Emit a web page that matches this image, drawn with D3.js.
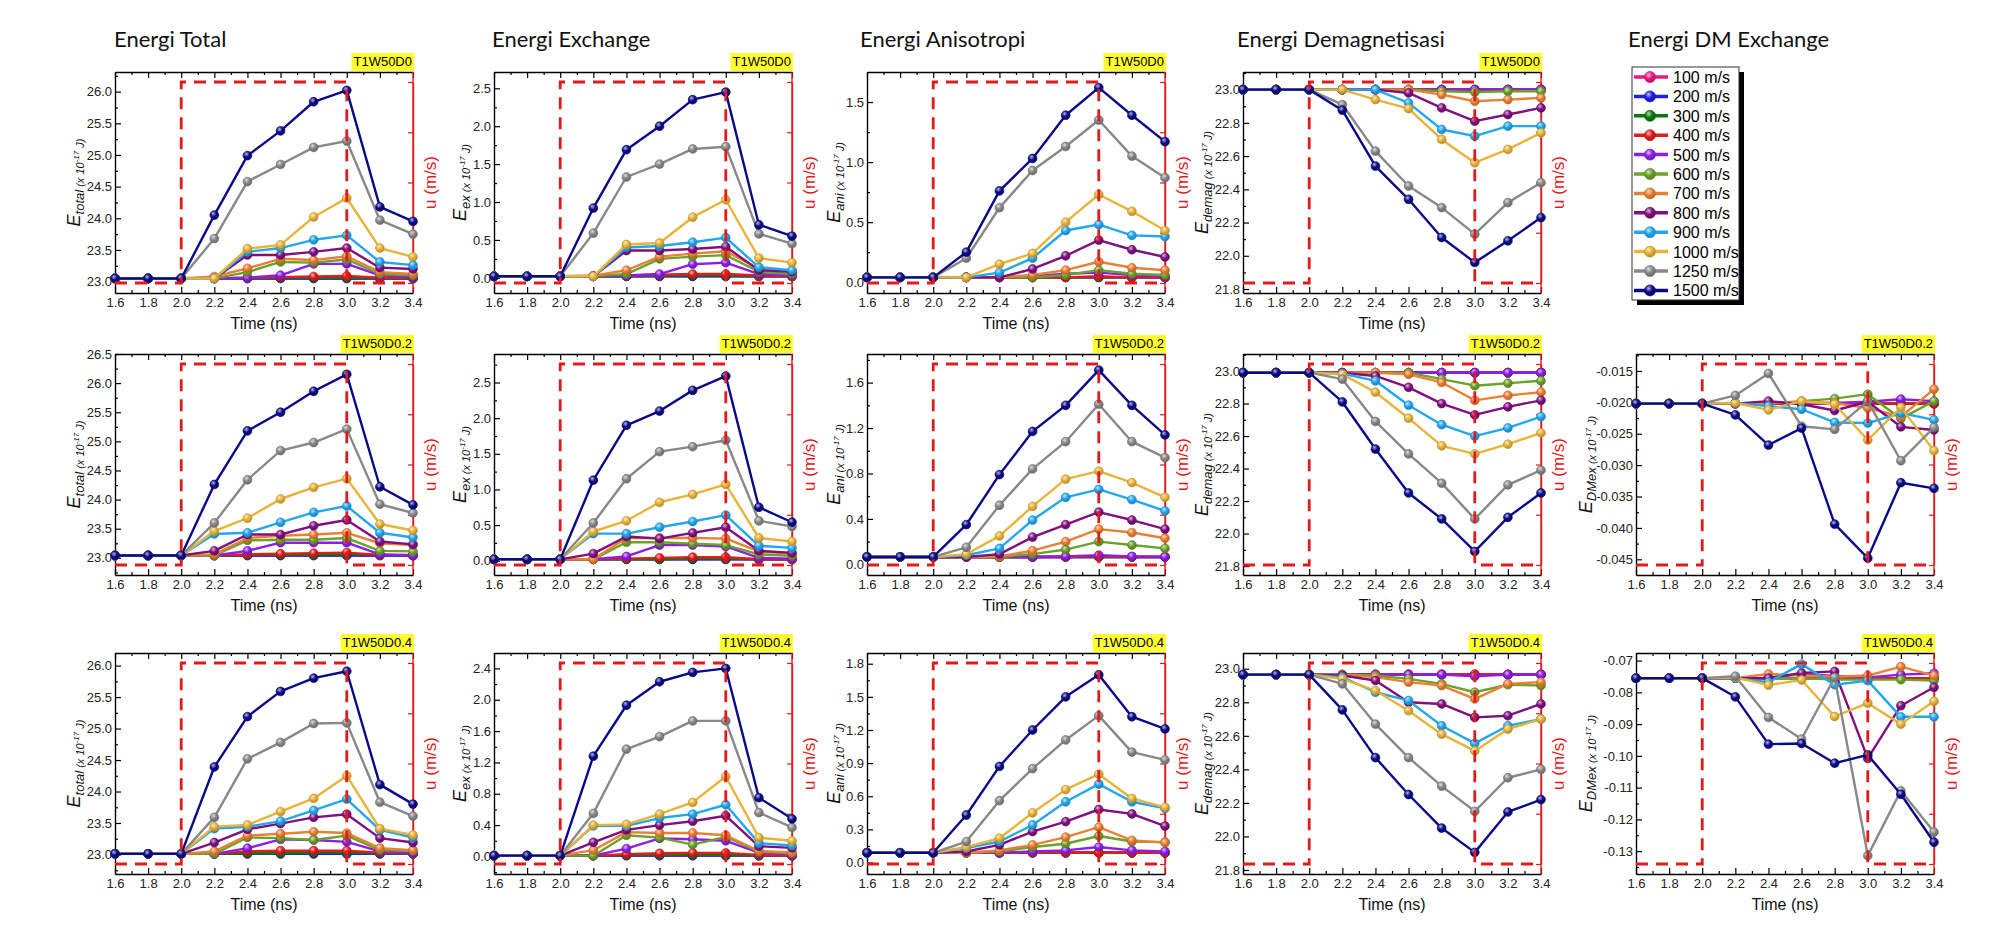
<!DOCTYPE html>
<html>
<head>
<meta charset="utf-8">
<script src="https://cdn.jsdelivr.net/npm/d3@7"></script>
<style>
  body { margin: 0; background: #fff; }
  text { font-family: "Liberation Sans", Arial, sans-serif; }
</style>
</head>
<body>
<svg id="chart" width="2000" height="937"></svg>
<script>
// waktu (ns) dan kecepatan
const times = [1.6, 1.8, 2.0, 2.2, 2.4, 2.6, 2.8, 3.0, 3.2, 3.4];
const speeds = ["100 m/s", "200 m/s", "300 m/s", "400 m/s", "500 m/s", "600 m/s",
  "700 m/s", "800 m/s", "900 m/s", "1000 m/s", "1250 m/s", "1500 m/s"];
const seriesColors = ["#e8197e", "#1f1fe0", "#0b7a0b", "#e41a1c", "#8c1ee6", "#6ba22a",
  "#ec7f33", "#800f80", "#22a7ee", "#e8b338", "#888888", "#0a0a88"];

// profil u(t) (dinormalisasi)
const uTimes = [1.6, 2.0, 2.0, 3.0, 3.0, 3.4];
const uLevels = [0, 0, 1, 1, 0, 0];
const uTicks = [0, 0.25, 0.5, 0.75, 1];

const xTicks = [1.6, 1.8, 2.0, 2.2, 2.4, 2.6, 2.8, 3.0, 3.2, 3.4];
const xMinorTicks = [1.7, 1.9, 2.1, 2.3, 2.5, 2.7, 2.9, 3.1, 3.3];

// ---- T1W50D0 ----
const totalD0 = [
  [23.05, 23.05, 23.05, 23.05, 23.05, 23.05, 23.05, 23.05, 23.05, 23.05],
  [23.05, 23.05, 23.05, 23.05, 23.05, 23.05, 23.05, 23.05, 23.05, 23.05],
  [23.05, 23.05, 23.05, 23.05, 23.05, 23.06, 23.06, 23.06, 23.05, 23.05],
  [23.05, 23.05, 23.05, 23.05, 23.06, 23.07, 23.08, 23.09, 23.06, 23.06],
  [23.05, 23.05, 23.05, 23.05, 23.06, 23.10, 23.28, 23.28, 23.10, 23.07],
  [23.05, 23.05, 23.05, 23.05, 23.15, 23.31, 23.30, 23.35, 23.12, 23.10],
  [23.05, 23.05, 23.05, 23.08, 23.21, 23.36, 23.34, 23.40, 23.15, 23.12],
  [23.05, 23.05, 23.05, 23.05, 23.42, 23.42, 23.47, 23.53, 23.22, 23.20],
  [23.05, 23.05, 23.05, 23.05, 23.47, 23.53, 23.66, 23.73, 23.31, 23.26],
  [23.05, 23.05, 23.05, 23.05, 23.52, 23.58, 24.02, 24.32, 23.53, 23.39],
  [23.05, 23.05, 23.05, 23.68, 24.58, 24.85, 25.12, 25.22, 23.97, 23.75],
  [23.05, 23.05, 23.05, 24.05, 24.99, 25.38, 25.84, 26.02, 24.18, 23.95]
];
const exchangeD0 = [
  [0.02, 0.02, 0.02, 0.02, 0.02, 0.02, 0.02, 0.02, 0.02, 0.02],
  [0.02, 0.02, 0.02, 0.02, 0.02, 0.02, 0.02, 0.02, 0.02, 0.02],
  [0.02, 0.02, 0.02, 0.02, 0.02, 0.03, 0.03, 0.03, 0.02, 0.02],
  [0.02, 0.02, 0.02, 0.02, 0.03, 0.04, 0.05, 0.05, 0.03, 0.02],
  [0.02, 0.02, 0.02, 0.02, 0.03, 0.05, 0.18, 0.20, 0.05, 0.03],
  [0.02, 0.02, 0.02, 0.02, 0.05, 0.25, 0.28, 0.30, 0.08, 0.05],
  [0.02, 0.02, 0.02, 0.03, 0.10, 0.28, 0.32, 0.35, 0.12, 0.08],
  [0.02, 0.02, 0.02, 0.02, 0.36, 0.36, 0.38, 0.41, 0.10, 0.08],
  [0.02, 0.02, 0.02, 0.02, 0.40, 0.42, 0.47, 0.53, 0.14, 0.10],
  [0.02, 0.02, 0.02, 0.02, 0.44, 0.46, 0.80, 1.03, 0.26, 0.20],
  [0.02, 0.02, 0.02, 0.59, 1.33, 1.50, 1.70, 1.73, 0.58, 0.45],
  [0.02, 0.02, 0.02, 0.92, 1.69, 2.00, 2.35, 2.45, 0.70, 0.55]
];
const anisoD0 = [
  [0.04, 0.04, 0.04, 0.04, 0.04, 0.04, 0.04, 0.04, 0.04, 0.04],
  [0.04, 0.04, 0.04, 0.04, 0.04, 0.04, 0.04, 0.04, 0.04, 0.04],
  [0.04, 0.04, 0.04, 0.04, 0.04, 0.04, 0.04, 0.04, 0.04, 0.04],
  [0.04, 0.04, 0.04, 0.04, 0.04, 0.04, 0.04, 0.05, 0.04, 0.04],
  [0.04, 0.04, 0.04, 0.04, 0.04, 0.05, 0.07, 0.08, 0.06, 0.05],
  [0.04, 0.04, 0.04, 0.04, 0.04, 0.04, 0.06, 0.10, 0.07, 0.06],
  [0.04, 0.04, 0.04, 0.04, 0.04, 0.06, 0.10, 0.17, 0.12, 0.10],
  [0.04, 0.04, 0.04, 0.04, 0.04, 0.11, 0.22, 0.35, 0.27, 0.21],
  [0.04, 0.04, 0.04, 0.04, 0.08, 0.20, 0.43, 0.48, 0.39, 0.38],
  [0.04, 0.04, 0.04, 0.04, 0.15, 0.24, 0.50, 0.73, 0.59, 0.43],
  [0.04, 0.04, 0.04, 0.20, 0.62, 0.93, 1.13, 1.35, 1.05, 0.87],
  [0.04, 0.04, 0.04, 0.25, 0.76, 1.03, 1.39, 1.62, 1.39, 1.17]
];
const demagD0 = [
  [23.0, 23.0, 23.0, 23.0, 23.0, 23.0, 23.0, 23.0, 23.0, 23.0],
  [23.0, 23.0, 23.0, 23.0, 23.0, 23.0, 23.0, 23.0, 23.0, 23.0],
  [23.0, 23.0, 23.0, 23.0, 23.0, 23.0, 23.0, 23.0, 23.0, 23.0],
  [23.0, 23.0, 23.0, 23.0, 23.0, 23.0, 23.0, 23.0, 23.0, 23.0],
  [23.0, 23.0, 23.0, 23.0, 23.0, 23.0, 23.0, 23.0, 23.0, 23.0],
  [23.0, 23.0, 23.0, 23.0, 23.0, 23.0, 22.99, 22.985, 22.99, 22.99],
  [23.0, 23.0, 23.0, 23.0, 23.0, 23.0, 22.97, 22.93, 22.94, 22.95],
  [23.0, 23.0, 23.0, 23.0, 23.0, 22.98, 22.89, 22.81, 22.85, 22.89],
  [23.0, 23.0, 23.0, 23.0, 23.0, 22.92, 22.76, 22.72, 22.78, 22.78],
  [23.0, 23.0, 23.0, 23.0, 22.94, 22.886, 22.70, 22.56, 22.64, 22.74],
  [23.0, 23.0, 23.0, 22.91, 22.63, 22.42, 22.29, 22.13, 22.32, 22.44],
  [23.0, 23.0, 23.0, 22.876, 22.54, 22.34, 22.11, 21.96, 22.09, 22.23]
];

// ---- T1W50D0.2 ----
const totalD02 = [
  [23.04, 23.04, 23.04, 23.04, 23.04, 23.04, 23.04, 23.04, 23.04, 23.04],
  [23.04, 23.04, 23.04, 23.04, 23.04, 23.04, 23.04, 23.04, 23.04, 23.04],
  [23.04, 23.04, 23.04, 23.04, 23.05, 23.05, 23.05, 23.06, 23.05, 23.04],
  [23.04, 23.04, 23.04, 23.04, 23.06, 23.07, 23.08, 23.09, 23.05, 23.05],
  [23.04, 23.04, 23.04, 23.04, 23.12, 23.26, 23.26, 23.26, 23.06, 23.04],
  [23.04, 23.04, 23.04, 23.04, 23.30, 23.31, 23.31, 23.34, 23.12, 23.11],
  [23.04, 23.04, 23.04, 23.06, 23.34, 23.38, 23.40, 23.43, 23.25, 23.22],
  [23.04, 23.04, 23.04, 23.12, 23.40, 23.40, 23.55, 23.65, 23.28, 23.23],
  [23.04, 23.04, 23.04, 23.41, 23.43, 23.61, 23.78, 23.89, 23.43, 23.35],
  [23.04, 23.04, 23.04, 23.46, 23.68, 24.01, 24.21, 24.36, 23.58, 23.47],
  [23.04, 23.04, 23.04, 23.60, 24.34, 24.84, 24.98, 25.21, 23.92, 23.77],
  [23.04, 23.04, 23.04, 24.26, 25.18, 25.50, 25.86, 26.15, 24.22, 23.91]
];
const exchangeD02 = [
  [0.02, 0.02, 0.02, 0.02, 0.02, 0.02, 0.02, 0.02, 0.02, 0.02],
  [0.02, 0.02, 0.02, 0.02, 0.02, 0.02, 0.02, 0.02, 0.02, 0.02],
  [0.02, 0.02, 0.02, 0.02, 0.02, 0.02, 0.03, 0.03, 0.02, 0.02],
  [0.02, 0.02, 0.02, 0.02, 0.03, 0.04, 0.05, 0.05, 0.02, 0.02],
  [0.02, 0.02, 0.02, 0.02, 0.06, 0.22, 0.22, 0.20, 0.04, 0.03],
  [0.02, 0.02, 0.02, 0.02, 0.26, 0.26, 0.24, 0.22, 0.09, 0.07],
  [0.02, 0.02, 0.02, 0.02, 0.32, 0.32, 0.32, 0.31, 0.13, 0.10],
  [0.02, 0.02, 0.02, 0.10, 0.34, 0.31, 0.39, 0.47, 0.14, 0.11],
  [0.02, 0.02, 0.02, 0.38, 0.38, 0.47, 0.55, 0.64, 0.21, 0.18],
  [0.02, 0.02, 0.02, 0.41, 0.56, 0.82, 0.93, 1.07, 0.32, 0.27],
  [0.02, 0.02, 0.02, 0.53, 1.15, 1.53, 1.60, 1.69, 0.56, 0.48],
  [0.02, 0.02, 0.02, 1.13, 1.90, 2.10, 2.39, 2.59, 0.75, 0.54]
];
const anisoD02 = [
  [0.065, 0.065, 0.065, 0.065, 0.065, 0.065, 0.065, 0.065, 0.065, 0.065],
  [0.065, 0.065, 0.065, 0.065, 0.065, 0.065, 0.065, 0.065, 0.065, 0.065],
  [0.065, 0.065, 0.065, 0.065, 0.065, 0.065, 0.065, 0.065, 0.065, 0.065],
  [0.065, 0.065, 0.065, 0.065, 0.065, 0.065, 0.065, 0.07, 0.065, 0.065],
  [0.065, 0.065, 0.065, 0.065, 0.065, 0.065, 0.07, 0.08, 0.07, 0.066],
  [0.065, 0.065, 0.065, 0.065, 0.065, 0.09, 0.13, 0.20, 0.17, 0.14],
  [0.065, 0.065, 0.065, 0.065, 0.07, 0.12, 0.20, 0.31, 0.28, 0.23],
  [0.065, 0.065, 0.065, 0.065, 0.09, 0.24, 0.35, 0.46, 0.39, 0.31],
  [0.065, 0.065, 0.065, 0.08, 0.14, 0.39, 0.59, 0.66, 0.57, 0.47],
  [0.065, 0.065, 0.065, 0.09, 0.25, 0.51, 0.75, 0.82, 0.72, 0.59],
  [0.065, 0.065, 0.065, 0.15, 0.52, 0.84, 1.08, 1.41, 1.08, 0.94],
  [0.065, 0.065, 0.065, 0.35, 0.79, 1.17, 1.40, 1.71, 1.40, 1.14]
];
const demagD02 = [
  [22.99, 22.99, 22.99, 22.99, 22.99, 22.99, 22.99, 22.99, 22.99, 22.99],
  [22.99, 22.99, 22.99, 22.99, 22.99, 22.99, 22.99, 22.99, 22.99, 22.99],
  [22.99, 22.99, 22.99, 22.99, 22.99, 22.99, 22.99, 22.99, 22.99, 22.99],
  [22.99, 22.99, 22.99, 22.99, 22.99, 22.99, 22.99, 22.99, 22.99, 22.99],
  [22.99, 22.99, 22.99, 22.99, 22.99, 22.99, 22.99, 22.99, 22.99, 22.99],
  [22.99, 22.99, 22.99, 22.99, 22.99, 22.99, 22.95, 22.91, 22.925, 22.94],
  [22.99, 22.99, 22.99, 22.99, 22.99, 22.98, 22.93, 22.82, 22.85, 22.87],
  [22.99, 22.99, 22.99, 22.99, 22.97, 22.90, 22.80, 22.73, 22.78, 22.82],
  [22.99, 22.99, 22.99, 22.985, 22.94, 22.79, 22.67, 22.60, 22.65, 22.72],
  [22.99, 22.99, 22.99, 22.98, 22.87, 22.71, 22.54, 22.49, 22.55, 22.62],
  [22.99, 22.99, 22.99, 22.95, 22.69, 22.49, 22.31, 22.09, 22.30, 22.39],
  [22.99, 22.99, 22.99, 22.81, 22.52, 22.25, 22.09, 21.89, 22.10, 22.25]
];
const dmD02 = [
  [-0.0202, -0.0202, -0.0202, -0.0202, -0.0202, -0.0202, -0.0202, -0.0202, -0.0202, -0.0202],
  [-0.0202, -0.0202, -0.0202, -0.0202, -0.0202, -0.0202, -0.0202, -0.0202, -0.0202, -0.0202],
  [-0.0202, -0.0202, -0.0202, -0.0202, -0.0202, -0.0202, -0.0202, -0.0202, -0.0202, -0.0202],
  [-0.0202, -0.0202, -0.0202, -0.0202, -0.0202, -0.0202, -0.0202, -0.0202, -0.0202, -0.0202],
  [-0.0202, -0.0202, -0.0202, -0.0202, -0.0202, -0.0202, -0.0201, -0.0199, -0.0195, -0.0198],
  [-0.0202, -0.0202, -0.0202, -0.0202, -0.0202, -0.0198, -0.0194, -0.0187, -0.0226, -0.0198],
  [-0.0202, -0.0202, -0.0202, -0.0202, -0.0201, -0.0199, -0.0201, -0.0209, -0.0223, -0.0179],
  [-0.0202, -0.0202, -0.0202, -0.0202, -0.0198, -0.0203, -0.0213, -0.0199, -0.0239, -0.0244],
  [-0.0202, -0.0202, -0.0202, -0.0201, -0.0206, -0.0211, -0.0232, -0.0233, -0.0217, -0.0228],
  [-0.0202, -0.0202, -0.0202, -0.0201, -0.0212, -0.0198, -0.0203, -0.0260, -0.0208, -0.0277],
  [-0.0202, -0.0202, -0.0202, -0.0189, -0.0154, -0.0238, -0.0243, -0.0198, -0.0293, -0.0240],
  [-0.0202, -0.0202, -0.0202, -0.0220, -0.0268, -0.0241, -0.0394, -0.0448, -0.0328, -0.0337]
];

// ---- T1W50D0.4 ----
const totalD04 = [
  [23.01, 23.01, 23.01, 23.01, 23.01, 23.01, 23.01, 23.01, 23.01, 23.01],
  [23.01, 23.01, 23.01, 23.01, 23.01, 23.01, 23.01, 23.01, 23.01, 23.01],
  [23.01, 23.01, 23.01, 23.01, 23.02, 23.02, 23.03, 23.03, 23.02, 23.01],
  [23.01, 23.01, 23.01, 23.01, 23.05, 23.06, 23.06, 23.06, 23.03, 23.02],
  [23.01, 23.01, 23.01, 23.01, 23.10, 23.24, 23.23, 23.20, 23.05, 23.02],
  [23.01, 23.01, 23.01, 23.01, 23.27, 23.26, 23.23, 23.30, 23.07, 23.06],
  [23.01, 23.01, 23.01, 23.05, 23.30, 23.33, 23.36, 23.34, 23.10, 23.07],
  [23.01, 23.01, 23.01, 23.19, 23.40, 23.49, 23.59, 23.64, 23.26, 23.19],
  [23.01, 23.01, 23.01, 23.41, 23.44, 23.53, 23.70, 23.88, 23.39, 23.27],
  [23.01, 23.01, 23.01, 23.44, 23.47, 23.68, 23.89, 24.25, 23.41, 23.31],
  [23.01, 23.01, 23.01, 23.59, 24.52, 24.78, 25.08, 25.09, 23.83, 23.61],
  [23.01, 23.01, 23.01, 24.39, 25.19, 25.59, 25.80, 25.91, 24.11, 23.80]
];
const exchangeD04 = [
  [0.01, 0.01, 0.01, 0.01, 0.01, 0.01, 0.01, 0.01, 0.01, 0.01],
  [0.01, 0.01, 0.01, 0.01, 0.01, 0.01, 0.01, 0.01, 0.01, 0.01],
  [0.01, 0.01, 0.01, 0.01, 0.02, 0.02, 0.02, 0.02, 0.01, 0.01],
  [0.01, 0.01, 0.01, 0.01, 0.03, 0.04, 0.045, 0.045, 0.02, 0.01],
  [0.01, 0.01, 0.01, 0.01, 0.10, 0.23, 0.22, 0.20, 0.05, 0.02],
  [0.01, 0.01, 0.01, 0.01, 0.27, 0.24, 0.15, 0.25, 0.06, 0.04],
  [0.01, 0.01, 0.01, 0.08, 0.31, 0.30, 0.30, 0.27, 0.07, 0.05],
  [0.01, 0.01, 0.01, 0.18, 0.34, 0.40, 0.45, 0.52, 0.13, 0.11],
  [0.01, 0.01, 0.01, 0.39, 0.39, 0.49, 0.54, 0.66, 0.17, 0.14],
  [0.01, 0.01, 0.01, 0.40, 0.41, 0.54, 0.69, 1.02, 0.24, 0.20],
  [0.01, 0.01, 0.01, 0.55, 1.37, 1.53, 1.73, 1.73, 0.56, 0.37],
  [0.01, 0.01, 0.01, 1.28, 1.93, 2.23, 2.35, 2.40, 0.75, 0.48]
];
const anisoD04 = [
  [0.088, 0.088, 0.088, 0.088, 0.088, 0.088, 0.088, 0.088, 0.088, 0.088],
  [0.088, 0.088, 0.088, 0.088, 0.088, 0.088, 0.088, 0.088, 0.088, 0.088],
  [0.088, 0.088, 0.088, 0.088, 0.088, 0.088, 0.088, 0.088, 0.088, 0.088],
  [0.088, 0.088, 0.088, 0.088, 0.088, 0.09, 0.09, 0.09, 0.088, 0.088],
  [0.088, 0.088, 0.088, 0.088, 0.088, 0.10, 0.11, 0.14, 0.11, 0.10],
  [0.088, 0.088, 0.088, 0.088, 0.10, 0.14, 0.17, 0.24, 0.19, 0.185],
  [0.088, 0.088, 0.088, 0.088, 0.11, 0.16, 0.23, 0.32, 0.20, 0.18],
  [0.088, 0.088, 0.088, 0.10, 0.16, 0.28, 0.37, 0.48, 0.44, 0.33],
  [0.088, 0.088, 0.088, 0.13, 0.19, 0.34, 0.55, 0.71, 0.55, 0.49],
  [0.088, 0.088, 0.088, 0.14, 0.22, 0.45, 0.66, 0.80, 0.58, 0.50],
  [0.088, 0.088, 0.088, 0.19, 0.56, 0.85, 1.11, 1.33, 1.00, 0.93],
  [0.088, 0.088, 0.088, 0.43, 0.87, 1.20, 1.50, 1.70, 1.32, 1.21]
];
const demagD04 = [
  [22.965, 22.965, 22.965, 22.965, 22.965, 22.965, 22.965, 22.965, 22.965, 22.965],
  [22.965, 22.965, 22.965, 22.965, 22.965, 22.965, 22.965, 22.965, 22.965, 22.965],
  [22.965, 22.965, 22.965, 22.965, 22.965, 22.965, 22.965, 22.965, 22.965, 22.965],
  [22.965, 22.965, 22.965, 22.965, 22.967, 22.968, 22.968, 22.968, 22.967, 22.967],
  [22.965, 22.965, 22.965, 22.965, 22.965, 22.965, 22.965, 22.955, 22.965, 22.965],
  [22.965, 22.965, 22.965, 22.965, 22.96, 22.94, 22.91, 22.86, 22.905, 22.90],
  [22.965, 22.965, 22.965, 22.965, 22.95, 22.92, 22.90, 22.82, 22.91, 22.92],
  [22.965, 22.965, 22.965, 22.96, 22.93, 22.80, 22.79, 22.71, 22.72, 22.79],
  [22.965, 22.965, 22.965, 22.95, 22.86, 22.81, 22.66, 22.555, 22.66, 22.70],
  [22.965, 22.965, 22.965, 22.94, 22.87, 22.75, 22.61, 22.51, 22.64, 22.70],
  [22.965, 22.965, 22.965, 22.91, 22.67, 22.47, 22.30, 22.15, 22.35, 22.40],
  [22.965, 22.965, 22.965, 22.755, 22.47, 22.25, 22.05, 21.905, 22.146, 22.22]
];
const dmD04 = [
  [-0.0755, -0.0755, -0.0755, -0.0755, -0.0755, -0.0755, -0.0755, -0.0755, -0.0755, -0.0755],
  [-0.0755, -0.0755, -0.0755, -0.0755, -0.0755, -0.0755, -0.0755, -0.0755, -0.0755, -0.0755],
  [-0.0755, -0.0755, -0.0755, -0.0755, -0.0755, -0.0755, -0.0755, -0.0755, -0.0755, -0.0755],
  [-0.0755, -0.0755, -0.0755, -0.0755, -0.0755, -0.0755, -0.0755, -0.0755, -0.0755, -0.0755],
  [-0.0755, -0.0755, -0.0755, -0.0755, -0.0755, -0.0742, -0.0748, -0.0753, -0.0744, -0.0740],
  [-0.0755, -0.0755, -0.0755, -0.0755, -0.0756, -0.0755, -0.0760, -0.0760, -0.0760, -0.0763],
  [-0.0755, -0.0755, -0.0755, -0.0755, -0.0742, -0.0747, -0.0751, -0.0747, -0.0719, -0.0747],
  [-0.0755, -0.0755, -0.0755, -0.0755, -0.0755, -0.0739, -0.0734, -0.1008, -0.0842, -0.0784],
  [-0.0755, -0.0755, -0.0755, -0.0755, -0.0768, -0.0711, -0.0776, -0.0763, -0.0877, -0.0877],
  [-0.0755, -0.0755, -0.0755, -0.0753, -0.0777, -0.0761, -0.0876, -0.0834, -0.0900, -0.0828],
  [-0.0755, -0.0755, -0.0755, -0.0749, -0.0879, -0.0947, -0.0753, -0.1314, -0.1110, -0.1240],
  [-0.0755, -0.0755, -0.0755, -0.0814, -0.0963, -0.0961, -0.1023, -0.0997, -0.1121, -0.1272]
];

// tick sumbu y
const totalTicksD0 = [23.0, 23.5, 24.0, 24.5, 25.0, 25.5, 26.0];
const exchangeTicksD0 = [0, 0.5, 1.0, 1.5, 2.0, 2.5];
const anisoTicksD0 = [0, 0.5, 1.0, 1.5];
const demagTicks = [21.8, 22.0, 22.2, 22.4, 22.6, 22.8, 23.0];
const totalTicksD02 = [23.0, 23.5, 24.0, 24.5, 25.0, 25.5, 26.0, 26.5];
const exchangeTicksD02 = [0, 0.5, 1.0, 1.5, 2.0, 2.5];
const anisoTicksD02 = [0, 0.4, 0.8, 1.2, 1.6];
const dmTicksD02 = [-0.045, -0.040, -0.035, -0.030, -0.025, -0.020, -0.015];
const totalTicksD04 = [23.0, 23.5, 24.0, 24.5, 25.0, 25.5, 26.0];
const exchangeTicksD04 = [0, 0.4, 0.8, 1.2, 1.6, 2.0, 2.4];
const anisoTicksD04 = [0, 0.3, 0.6, 0.9, 1.2, 1.5, 1.8];
const dmTicksD04 = [-0.13, -0.12, -0.11, -0.10, -0.09, -0.08, -0.07];

const titles = ["Energi Total", "Energi Exchange", "Energi Anisotropi", "Energi Demagnetisasi", "Energi DM Exchange"];
const subs = ["total", "ex", "ani", "demag", "DMex"];
const tags = ["T1W50D0", "T1W50D0.2", "T1W50D0.4"];

// tata letak
const W = 298, H = 221;
const colLeft = [115, 494, 867, 1243, 1636];
const rowTop = [72, 354, 653];
const titleX = [114, 492, 860, 1237, 1628];
const labelOffset = [35, 28, 27, 35, 44];
const uColor = "#e31a1c";

const panels = [
  { row: 0, col: 0, values: totalD0, domain: [22.82, 26.31], ticks: totalTicksD0, digits: 1 },
  { row: 0, col: 1, values: exchangeD0, domain: [-0.2, 2.715], ticks: exchangeTicksD0, digits: 1 },
  { row: 0, col: 2, values: anisoD0, domain: [-0.09, 1.75], ticks: anisoTicksD0, digits: 1 },
  { row: 0, col: 3, values: demagD0, domain: [21.776, 23.106], ticks: demagTicks, digits: 1 },
  { row: 1, col: 0, values: totalD02, domain: [22.705, 26.5], ticks: totalTicksD02, digits: 1 },
  { row: 1, col: 1, values: exchangeD02, domain: [-0.2, 2.9], ticks: exchangeTicksD02, digits: 1 },
  { row: 1, col: 2, values: anisoD02, domain: [-0.094, 1.852], ticks: anisoTicksD02, digits: 1 },
  { row: 1, col: 3, values: demagD02, domain: [21.745, 23.105], ticks: demagTicks, digits: 1 },
  { row: 1, col: 4, values: dmD02, domain: [-0.0475, -0.0123], ticks: dmTicksD02, digits: 3 },
  { row: 2, col: 0, values: totalD04, domain: [22.69, 26.2], ticks: totalTicksD04, digits: 1 },
  { row: 2, col: 1, values: exchangeD04, domain: [-0.224, 2.597], ticks: exchangeTicksD04, digits: 1 },
  { row: 2, col: 2, values: anisoD04, domain: [-0.104, 1.897], ticks: anisoTicksD04, digits: 1 },
  { row: 2, col: 3, values: demagD04, domain: [21.776, 23.094], ticks: demagTicks, digits: 1 },
  { row: 2, col: 4, values: dmD04, domain: [-0.1372, -0.0676], ticks: dmTicksD04, digits: 2 }
];

const svg = d3.select("#chart");

// gradien bola untuk penanda
const defs = svg.append("defs");
seriesColors.forEach((c, i) => {
  const g = defs.append("radialGradient").attr("id", "ball" + i)
    .attr("cx", "38%").attr("cy", "32%").attr("r", "68%");
  g.append("stop").attr("offset", "0%").attr("stop-color", d3.interpolateRgb(c, "#fff")(0.7));
  g.append("stop").attr("offset", "50%").attr("stop-color", c);
  g.append("stop").attr("offset", "100%").attr("stop-color", d3.color(c).darker(0.7));
});

function styleAxis(sel, color) {
  sel.selectAll(".domain").attr("stroke", color).attr("stroke-width", 1.4);
  sel.selectAll(".tick line").attr("stroke", color).attr("stroke-width", 1.2);
  sel.selectAll(".tick text").attr("fill", "#222").style("font-size", "13px")
    .style("font-family", "'Liberation Sans', Arial, sans-serif");
}

function drawPanel(p) {
  const left = colLeft[p.col], top = rowTop[p.row];
  const x = d3.scaleLinear().domain([1.6, 3.4]).range([left, left + W]);
  const y = d3.scaleLinear().domain(p.domain).range([top + H, top]);
  const u = d3.scaleLinear().domain([0, 1]).range([top + H - 10, top + 10]);
  const g = svg.append("g");

  const step = p.ticks[1] - p.ticks[0];
  const yMinor = [p.ticks[0] - step / 2].concat(p.ticks.map(t => t + step / 2))
    .filter(v => v > p.domain[0] && v < p.domain[1]);

  // tick minor
  g.append("g").attr("transform", `translate(0,${top + H})`)
    .call(d3.axisBottom(x).tickValues(xMinorTicks).tickSize(-3).tickFormat(""))
    .call(s => s.select(".domain").remove()).call(s => styleAxis(s, "#000"));
  g.append("g").attr("transform", `translate(0,${top})`)
    .call(d3.axisTop(x).tickValues(xMinorTicks).tickSize(-3).tickFormat(""))
    .call(s => s.select(".domain").remove()).call(s => styleAxis(s, "#000"));
  g.append("g").attr("transform", `translate(${left},0)`)
    .call(d3.axisLeft(y).tickValues(yMinor).tickSize(-3).tickFormat(""))
    .call(s => s.select(".domain").remove()).call(s => styleAxis(s, "#000"));

  // sumbu utama
  g.append("g").attr("transform", `translate(0,${top + H})`)
    .call(d3.axisBottom(x).tickValues(xTicks).tickSize(-6).tickSizeOuter(0).tickPadding(5)
      .tickFormat(d => d.toFixed(1)))
    .call(s => styleAxis(s, "#000"));
  g.append("g").attr("transform", `translate(0,${top})`)
    .call(d3.axisTop(x).tickValues(xTicks).tickSize(-6).tickSizeOuter(0).tickFormat(""))
    .call(s => styleAxis(s, "#000"));
  g.append("g").attr("transform", `translate(${left},0)`)
    .call(d3.axisLeft(y).tickValues(p.ticks).tickSize(-6).tickSizeOuter(0).tickPadding(3)
      .tickFormat(d => d.toFixed(p.digits)))
    .call(s => styleAxis(s, "#000"));
  g.append("g").attr("transform", `translate(${left + W},0)`)
    .call(d3.axisRight(u).tickValues(uTicks).tickSize(-5).tickSizeOuter(0).tickFormat(""))
    .call(s => styleAxis(s, uColor));
  // sisi kanan penuh (merah)
  g.append("line").attr("x1", left + W).attr("x2", left + W).attr("y1", top).attr("y2", top + H)
    .attr("stroke", uColor).attr("stroke-width", 1.4);

  // label sumbu
  g.append("text").attr("x", left + W / 2).attr("y", top + H + 36)
    .attr("text-anchor", "middle").style("font-size", "16px").attr("fill", "#111")
    .text("Time (ns)");

  const cx = left - labelOffset[p.col], cy = top + H / 2;
  const yl = g.append("text").attr("transform", `translate(${cx},${cy}) rotate(-90)`)
    .attr("text-anchor", "middle").style("font-style", "italic").attr("fill", "#111");
  yl.append("tspan").style("font-size", "18px").text("E");
  yl.append("tspan").style("font-size", "13px").attr("dy", 4).text(subs[p.col]);
  yl.append("tspan").style("font-size", "11px").text("\u00a0(x 10");
  yl.append("tspan").style("font-size", "8px").attr("dy", -5).text("-17");
  yl.append("tspan").style("font-size", "11px").attr("dy", 5).text("\u00a0J)");

  g.append("text").attr("transform", `translate(${left + W + 17},${cy}) rotate(-90)`)
    .attr("text-anchor", "middle").attr("dy", "0.35em").style("font-size", "17px")
    .attr("fill", uColor).text("u (m/s)");

  // label kondisi
  const tagBox = g.append("rect").attr("y", top - 19).attr("height", 18).attr("fill", "#ffff2e");
  const tag = g.append("text").attr("x", left + W - 1).attr("y", top - 6)
    .attr("text-anchor", "end").style("font-size", "13px").attr("fill", "#000").text(tags[p.row]);
  const tw = tag.node().getComputedTextLength();
  tagBox.attr("x", left + W - tw - 3).attr("width", tw + 4);

  // data
  const line = d3.line().x((d, i) => x(times[i])).y(d => y(d));
  p.values.forEach((vals, si) => {
    const c = seriesColors[si];
    g.append("path").datum(vals).attr("d", line).attr("fill", "none")
      .attr("stroke", c).attr("stroke-width", 2.4).attr("stroke-linejoin", "round");
    g.selectAll(null).data(vals).enter().append("circle")
      .attr("cx", (d, i) => x(times[i])).attr("cy", d => y(d)).attr("r", 4.4)
      .attr("fill", `url(#ball${si})`).attr("stroke", d3.color(c).darker(0.5)).attr("stroke-width", 0.7);
  });

  // profil u
  const uLine = d3.line().x(d => x(d[0])).y(d => u(d[1]));
  g.append("path").datum(uTimes.map((t, i) => [t, uLevels[i]])).attr("d", uLine)
    .attr("fill", "none").attr("stroke", uColor).attr("stroke-width", 2.8)
    .attr("stroke-dasharray", "12,8");
}

panels.forEach(drawPanel);

// judul kolom
titles.forEach((t, i) => {
  svg.append("text").attr("x", titleX[i]).attr("y", 47)
    .style("font-family", "Lato, 'Open Sans', sans-serif").style("font-size", "22px")
    .attr("fill", "#111").text(t);
});

// legenda
const lg = svg.append("g");
lg.append("rect").attr("x", 1637).attr("y", 72).attr("width", 107).attr("height", 233).attr("fill", "#000");
lg.append("rect").attr("x", 1632).attr("y", 67).attr("width", 107).attr("height", 233)
  .attr("fill", "#fff").attr("stroke", "#333").attr("stroke-width", 1);
speeds.forEach((s, i) => {
  const yy = 77 + i * 19.4;
  const c = seriesColors[i];
  lg.append("line").attr("x1", 1634).attr("x2", 1668).attr("y1", yy).attr("y2", yy)
    .attr("stroke", c).attr("stroke-width", 3.5);
  lg.append("circle").attr("cx", 1650).attr("cy", yy).attr("r", 5.5)
    .attr("fill", `url(#ball${i})`).attr("stroke", d3.color(c).darker(0.5)).attr("stroke-width", 0.7);
  lg.append("text").attr("x", 1673).attr("y", yy + 6).style("font-size", "16px")
    .attr("fill", "#000").text(s);
});
</script>
</body>
</html>
